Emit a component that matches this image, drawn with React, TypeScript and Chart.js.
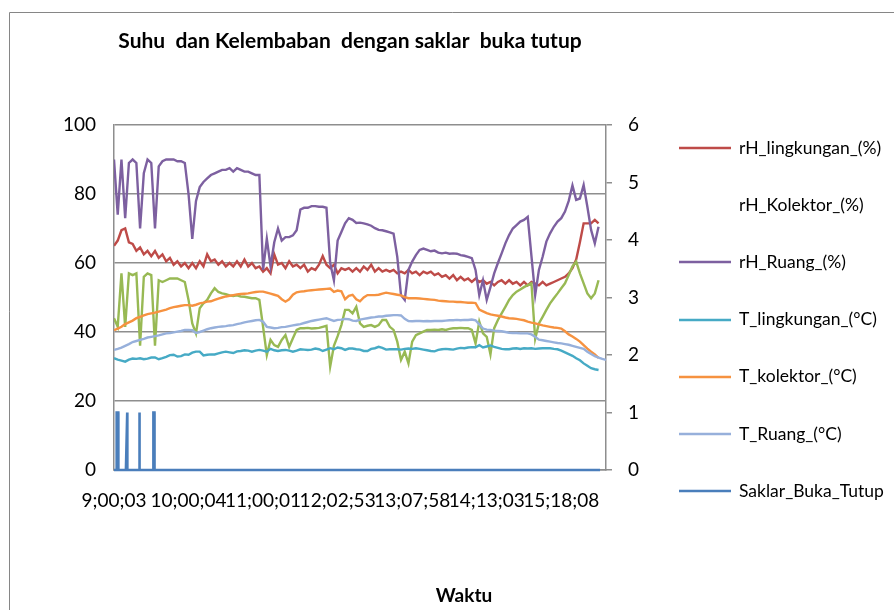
import React, { useEffect, useRef } from 'react';
import { Chart, registerables } from 'chart.js';

Chart.register(...registerables);

const FONT = 'Lato';
const GRID = '#8E8E8E';
const TITLE = 'Suhu  dan Kelembaban  dengan saklar  buka tutup';
const X_TITLE = 'Waktu';

// category tick labels (every LABEL_STEP samples)
const timeLabels = ['9;00;03', '10;00;04', '11;00;01', '12;02;53', '13;07;58', '14;13;03', '15;18;08'];
const LABEL_STEP = 20;
const X_MAX = 132;

const rHLingkungan = [
  65, 66.5, 69.5, 70, 66, 65.5, 63.5, 64.5, 62.5, 63.5, 62, 63.5, 61.5, 62.5, 60.5, 61.5, 59.5, 60.5, 59, 60,
  58.5, 60, 58.5, 60.5, 59, 62.5, 60.5, 61, 59.5, 60.5, 59, 60, 59, 60.5, 59, 61, 59, 60, 58.5, 59,
  57.5, 58.5, 57, 62.5, 59.5, 60, 58.5, 60.5, 59, 59.5, 58.5, 59.5, 57.5, 58.5, 58, 59.5, 62, 59.5, 58.5, 59.5,
  57, 58.5, 58, 58.5, 57.5, 58.5, 57.5, 59, 58, 59.5, 57.5, 58.5, 57.5, 58, 57.5, 58, 57, 57.5, 57, 58,
  57, 57.5, 56.5, 57.5, 57, 57.5, 56.5, 57, 56, 56.5, 55.5, 56.5, 55, 56, 55, 55.5, 54.5, 55.5, 54.5, 55,
  54, 54.5, 53.5, 54.5, 55, 54, 55, 54, 54.5, 53.5, 54.5, 53.5, 54.5, 54, 53.5, 54.5, 53.5, 54, 54.5, 55,
  55.5, 56, 57, 58.5, 61, 66, 71.5, 71.5, 71.5, 72.5, 71.5,
];

const rHKolektor = [
  44, 41.5, 57, 41.5, 57, 56.5, 57, 36, 56, 57, 56.5, 36, 55, 54.5, 55, 55.5, 55.5, 55.5, 55, 54.5,
  49.3, 42.5, 39.6, 46.9, 48.3, 49.3, 51.2, 52.7, 51.6, 51.2, 51, 50.6, 50.4, 50.6, 50.3, 50.2, 50, 49.8, 49.8, 49.3,
  41.5, 33.3, 37.7, 36.2, 35.7, 37.7, 39.1, 35.7, 38.2, 40.6, 41.1, 41.1, 41.2, 41, 41.1, 41.2, 41.5, 41.8, 30, 36,
  38.8, 42, 46.4, 46.4, 45.4, 47.3, 42.5, 41.5, 41.8, 42, 41.5, 42, 43.5, 43.5, 41.5, 40.6, 37.2, 31.9, 34.3, 30.9,
  37.2, 39.1, 39.6, 40.1, 40.6, 40.6, 40.7, 40.6, 40.8, 40.6, 40.9, 41.1, 41.1, 41.2, 41.1, 41.1, 40.6, 36.7, 43, 39.6,
  38.6, 33.5, 41.1, 43.5, 45.4, 47.3, 49.3, 50.7, 51.7, 52.3, 53, 53.6, 54.1, 38, 42.5, 44.4, 46.4, 48.3, 49.8, 51.2,
  52.7, 54.1, 56.5, 59, 60.4, 57, 54.1, 51.2, 49.8, 51.2, 55,
];

const rHRuang = [
  90, 74, 90, 73, 89, 90, 89, 70, 86, 90, 89, 70, 88, 89.5, 90, 90, 90, 89.5, 89.5, 89,
  80, 67, 78, 82, 83.5, 84.5, 85.5, 86, 86.5, 87, 87, 87.5, 86.5, 87.5, 87, 86.5, 86.5, 86, 85.5, 85.5,
  58, 67, 59, 66, 70, 66.5, 67.5, 67.5, 68, 69.5, 75.5, 76, 76, 76.5, 76.5, 76.3, 76.3, 76, 60, 55,
  66.5, 69, 71.5, 73, 72.5, 71.6, 71.7, 71.5, 71.2, 70.8, 70.1, 69.6, 69.5, 69.2, 68.9, 68.5, 61.8, 50.7, 49.3, 58,
  60.4, 62.3, 63.8, 64.2, 63.8, 63.4, 63.6, 63, 62.8, 63, 62.7, 62.8, 62.7, 62.3, 62.1, 61.8, 61.4, 58, 50.7, 55,
  49.3, 53, 57, 60, 62.8, 65.7, 68.1, 70, 71, 72, 72.5, 73.4, 62, 50.7, 58, 61.8, 66.2, 68.6, 70.5, 72,
  73, 74.9, 78, 82.5, 78.3, 78.7, 82.6, 76.3, 69.6, 65.7, 70.5,
];

const tLingkungan = [
  32.4, 32, 31.7, 31.4, 32, 32.3, 32.2, 32.4, 32.1, 32.3, 32.6, 32.6, 32.1, 32.4, 32.8, 33.3, 33.4, 32.9, 33, 33.5,
  33.4, 34, 34.3, 34.3, 33.2, 33.4, 33.5, 33.5, 33.8, 34.1, 34.3, 34.1, 33.9, 34.4, 34.5, 34.7, 34.6, 34.3, 34.6, 34.8,
  34.6, 34.3, 35.1, 34.7, 34.5, 34.7, 34.8, 34.6, 34.3, 34.6, 35, 34.9, 34.8, 34.9, 35.2, 35, 34.5, 34.9, 35.3, 35,
  35.5, 35.3, 34.8, 35.2, 35.2, 35, 34.9, 34.5, 34.5, 35.1, 35.3, 35.7, 35.4, 34.9, 35, 35, 35, 34.9, 35.1, 35.2,
  35.1, 35.3, 35.1, 34.9, 34.7, 34.5, 34.4, 34.8, 35, 35.1, 35, 34.9, 35.2, 35.4, 35.3, 35.5, 35.6, 35.6, 36.2, 35.5,
  35.8, 36.1, 35.7, 35.4, 35.1, 35, 35, 35.2, 35.3, 35.1, 35.3, 35.2, 35.3, 35.1, 35.2, 35.3, 35.3, 35.3, 35.1, 35,
  34.6, 34.1, 33.6, 33.1, 32.4, 31.8, 30.9, 30.2, 29.5, 29.2, 29,
];

const tKolektor = [
  40.5, 41, 41.5, 42.3, 42.8, 43.3, 44, 44.4, 44.8, 45.2, 45.4, 45.6, 45.9, 46.2, 46.5, 46.9, 47.2, 47.4, 47.6, 47.8,
  47.8, 47.6, 47.9, 48.3, 48.5, 48.8, 48.9, 49.3, 49.7, 50, 50.3, 50.5, 50.7, 50.9, 51, 51.1, 51.2, 51.4, 51.6, 51.7,
  51.7, 51.4, 51.1, 50.8, 50.5, 49.5, 48.8, 49.5, 50.8, 51.5, 51.7, 51.8, 52, 52.1, 52.2, 52.3, 52.4, 52.5, 52.6, 51.6,
  52, 51.8, 49.5, 50.5, 50.8, 49.5, 48.9, 50, 50.7, 50.7, 50.7, 50.8, 51.1, 51.4, 51.2, 51, 50.8, 50.6, 50.1, 49.8,
  49.8, 49.8, 49.7, 49.6, 49.5, 49.4, 49.3, 49.1, 49, 48.9, 48.8, 48.8, 48.7, 48.7, 48.6, 48.5, 48.5, 48.4, 46.5, 46,
  45.5, 45.1, 44.9, 44.7, 44.5, 44.2, 44, 43.9, 43.8, 43.6, 43.4, 43, 42.7, 42.5, 42.2, 41.9, 41.7, 41.5, 41.3, 41.2,
  41, 40.2, 39.3, 38.7, 38, 37.2, 36.2, 35.2, 34.3, 33.5, 32.5,
];

const tRuang = [
  34.8, 35.1, 35.5, 36, 36.5, 37.1, 37.4, 37.7, 38, 38.4, 38.6, 38.8, 39, 39.3, 39.6, 39.7, 39.9, 40.1, 40.3, 40.6,
  40.6, 40.5, 39.7, 40, 40.4, 40.8, 41.1, 41.3, 41.5, 41.6, 41.7, 41.9, 42, 42.3, 42.5, 42.8, 43, 43.2, 43.4, 43.5,
  43, 41.5, 41.3, 41.1, 41.2, 41.4, 41.5, 41.7, 41.9, 42.1, 42.3, 42.6, 42.9, 43.2, 43.4, 43.6, 43.8, 44, 43.6, 43.2,
  43.5, 43.6, 43.8, 43.7, 43.3, 43.2, 43.6, 43.8, 44, 44.2, 44.3, 44.5, 44.5, 44.7, 44.8, 44.9, 44.9, 44.8, 43.8, 43.2,
  43.1, 43.2, 43.2, 43.1, 43.2, 43.1, 43.2, 43.2, 43.2, 43.3, 43.4, 43.4, 43.5, 43.4, 43.5, 43.5, 43.6, 43.4, 42.2, 41,
  40.7, 40.6, 40.4, 40.3, 40.2, 40, 39.8, 39.7, 39.7, 39.6, 39.6, 39.6, 39.3, 38.6, 37.8, 37.6, 37.4, 37.2, 37, 36.8,
  36.7, 36.5, 36.3, 36, 35.7, 35.4, 35.1, 34.3, 33.6, 33, 32.6, 32.2, 31.9,
];

// switch events: sample index and state (0 = tutup, 1 = buka)
const saklarIdx = [0, 0.7, 0.72, 1.15, 1.17, 3.2, 3.55, 3.58, 6.8, 6.82, 6.86, 6.88, 10.55, 10.57, 10.85, 10.87, 130.4];
const saklarVal = [0, 0, 1, 1, 0, 0, 1, 0, 0, 1, 1, 0, 0, 1, 1, 0, 0];

const seriesNames = [
  'rH_lingkungan_(%)',
  'rH_Kolektor_(%)',
  'rH_Ruang_(%)',
  'T_lingkungan_(°C)',
  'T_kolektor_(°C)',
  'T_Ruang_(°C)',
  'Saklar_Buka_Tutup',
];
const seriesColors = ['#BE4B48', '#98B954', '#7D60A0', '#46AAC5', '#F69240', '#97B0DB', '#4A7EBB'];
const legendShowLine = [true, false, true, true, true, true, true];

const decor = {
  id: 'decor',
  beforeDraw(chart: any) {
    const ctx = chart.ctx;
    ctx.save();
    ctx.strokeStyle = '#868686';
    ctx.lineWidth = 1;
    ctx.beginPath();
    ctx.moveTo(9.5, 612);
    ctx.lineTo(9.5, 12.5);
    ctx.lineTo(896, 12.5);
    ctx.stroke();
    ctx.restore();
  },
  afterDraw(chart: any) {
    const ctx = chart.ctx;
    ctx.save();
    ctx.fillStyle = '#000';
    ctx.textAlign = 'center';
    ctx.textBaseline = 'alphabetic';
    ctx.font = `bold 21px ${FONT}`;
    ctx.fillText(TITLE, 350, 48);
    ctx.font = `bold 19px ${FONT}`;
    ctx.fillText(X_TITLE, 464, 602);

    ctx.textAlign = 'left';
    ctx.textBaseline = 'middle';
    ctx.font = `17.5px ${FONT}`;
    seriesNames.forEach((name, k) => {
      const y = 148 + k * 57.2;
      if (legendShowLine[k]) {
        ctx.strokeStyle = seriesColors[k];
        ctx.lineWidth = 2.5;
        ctx.beginPath();
        ctx.moveTo(679, Math.round(y));
        ctx.lineTo(731, Math.round(y));
        ctx.stroke();
      }
      ctx.fillStyle = '#000';
      ctx.fillText(name, 739, y);
    });
    ctx.restore();
  },
};

export default function App() {
  const ref = useRef<HTMLCanvasElement>(null);

  useEffect(() => {
    document.body.style.margin = '0';
    const toPts = (arr: number[]) => arr.map((y, i) => ({ x: i, y }));
    const values = [rHLingkungan, rHKolektor, rHRuang, tLingkungan, tKolektor, tRuang];
    const datasets: any[] = values.map((arr, k) => ({
      label: seriesNames[k],
      data: toPts(arr),
      borderColor: seriesColors[k],
      backgroundColor: seriesColors[k],
      borderWidth: 2.4,
      pointRadius: 0,
      tension: 0,
      yAxisID: 'y',
      order: 6 - k,
    }));
    datasets.push({
      label: seriesNames[6],
      data: saklarIdx.map((x, i) => ({ x, y: saklarVal[i] })),
      borderColor: seriesColors[6],
      backgroundColor: seriesColors[6],
      borderWidth: 2.6,
      pointRadius: 0,
      tension: 0,
      yAxisID: 'y1',
      order: 0,
      clip: 4,
    });

    const tickFont = { family: FONT, size: 19 };
    const chart = new Chart(ref.current as HTMLCanvasElement, {
      type: 'line',
      data: { datasets },
      options: {
        animation: false,
        responsive: false,
        events: [],
        layout: { padding: { left: 0, right: 0, top: 125, bottom: 0 } },
        plugins: {
          legend: { display: false },
          tooltip: { enabled: false },
          title: { display: false },
        },
        scales: {
          x: {
            type: 'linear',
            min: 0,
            max: X_MAX,
            afterBuildTicks: (s: any) => {
              s.ticks = timeLabels.map((_, k) => ({ value: k * LABEL_STEP }));
            },
            afterFit: (s: any) => {
              s.height = 140;
            },
            ticks: {
              autoSkip: false,
              maxRotation: 0,
              minRotation: 0,
              padding: 19,
              color: '#000',
              font: tickFont,
              callback: (v: any) => timeLabels[Math.round(Number(v) / LABEL_STEP)] ?? '',
            },
            grid: { display: false, drawTicks: false },
            border: { color: GRID, width: 1.5 },
          },
          y: {
            position: 'left',
            min: 0,
            max: 100,
            afterFit: (s: any) => {
              s.width = 114;
            },
            ticks: { stepSize: 20, padding: 18, color: '#000', font: tickFont },
            grid: { color: GRID, lineWidth: 1.5, drawTicks: false },
            border: { color: GRID, width: 1.5 },
          },
          y1: {
            position: 'right',
            min: 0,
            max: 6,
            afterFit: (s: any) => {
              s.width = 894 - 606;
            },
            ticks: { stepSize: 1, padding: 16, color: '#000', font: tickFont },
            grid: { drawOnChartArea: false, drawTicks: true, tickLength: 6, color: GRID, tickColor: GRID, lineWidth: 1.5 },
            border: { color: GRID, width: 1.5 },
          },
        },
      } as any,
      plugins: [decor],
    });
    return () => chart.destroy();
  }, []);

  return <canvas ref={ref} width={894} height={610} style={{ display: 'block' }} />;
}
